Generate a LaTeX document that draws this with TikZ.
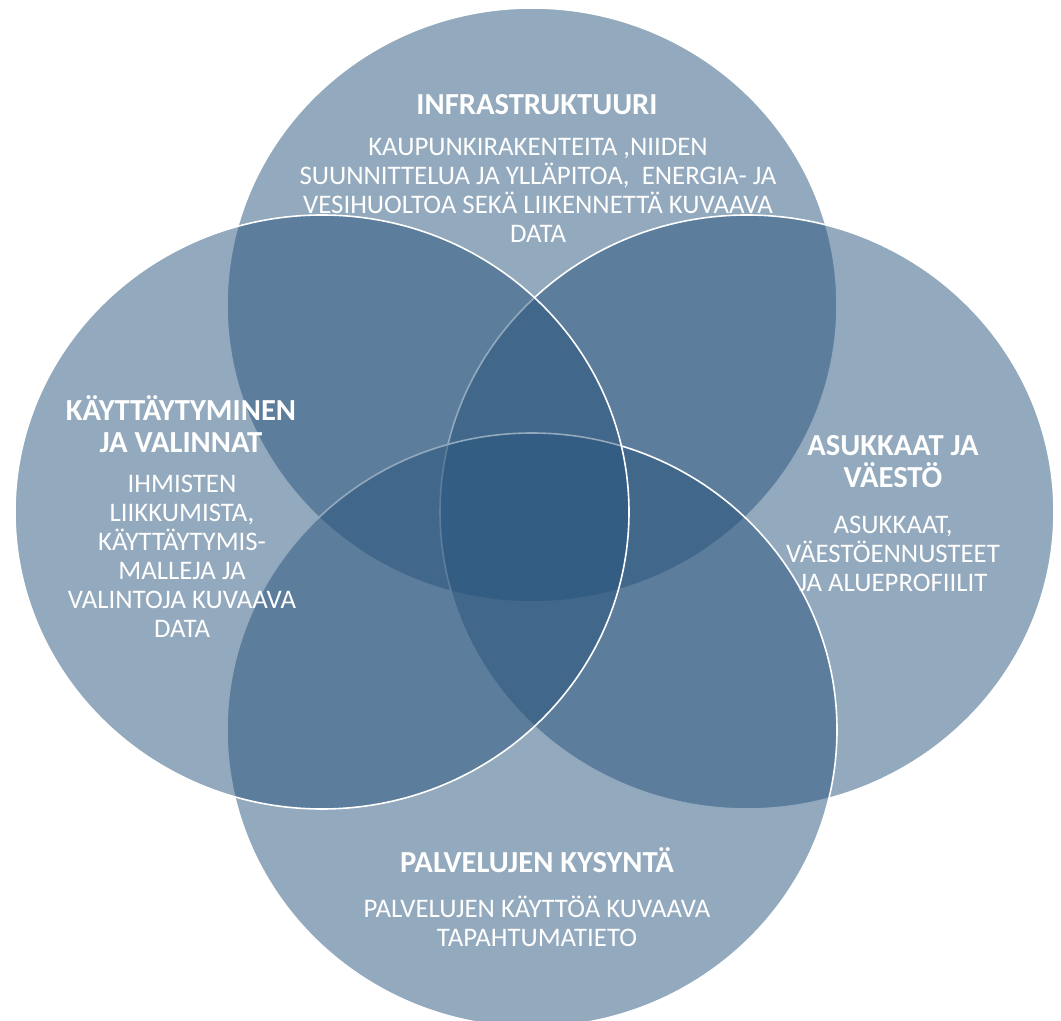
\documentclass[tikz,border=0pt]{standalone}
\usepackage{fontspec}
\setmainfont{Carlito}
\definecolor{vennblue}{RGB}{39,83,123}
\begin{document}
\begin{tikzpicture}[x=0.5pt,y=-0.5pt,
  venn/.style={fill=vennblue,fill opacity=0.5,draw=white,draw opacity=1,line width=0.8pt},
  head/.style={text=white,align=center,font=\fontsize{15.3}{16}\selectfont\bfseries,inner sep=0pt},
  body/.style={text=white,align=center,font=\fontsize{13.4}{14.5}\selectfont,inner sep=0pt}]
\useasboundingbox (0,0) rectangle (1061,1021);
\clip (0,0) rectangle (1061,1021);
% top circle
\path[venn] (532,305) ellipse [x radius=152.5pt, y radius=148.5pt];
\node[head] (htop) at (537,105) {INFRASTRUKTUURI};
\node[body,anchor=north] (btop) at (538,138) {KAUPUNKIRAKENTEITA ,NIIDEN\\SUUNNITTELUA JA YLLÄPITOA,\ \ ENERGIA- JA\\VESIHUOLTOA SEKÄ LIIKENNETTÄ KUVAAVA\\DATA};
% right circle
\path[venn] (747,512) ellipse [x radius=153.5pt, y radius=148.5pt];
\node[head,anchor=north] (hright) at (893,435) {ASUKKAAT JA\\VÄESTÖ};
\node[body,anchor=north] (bright) at (893,516) {ASUKKAAT,\\VÄESTÖENNUSTEET\\JA ALUEPROFIILIT};
% bottom circle
\path[venn] (532,730) ellipse [x radius=152.5pt, y radius=148.5pt];
\node[head] (hbot) at (537,860) {PALVELUJEN KYSYNTÄ};
\node[body,anchor=north] (bbot) at (537,896) {PALVELUJEN KÄYTTÖÄ KUVAAVA\\TAPAHTUMATIETO};
% left circle
\path[venn] (322,512) ellipse [x radius=153.5pt, y radius=148.5pt];
\node[head,anchor=north] (hleft) at (181,395) {KÄYTTÄYTYMINEN\\JA VALINNAT};
\node[body,anchor=north] (bleft) at (182,475) {IHMISTEN\\LIIKKUMISTA,\\KÄYTTÄYTYMIS-\\MALLEJA JA\\VALINTOJA KUVAAVA\\DATA};
% page number
\node[text=gray,font=\fontsize{12}{12}\selectfont,inner sep=0pt] (pg) at (973,1030) {3};
\end{tikzpicture}
\end{document}
